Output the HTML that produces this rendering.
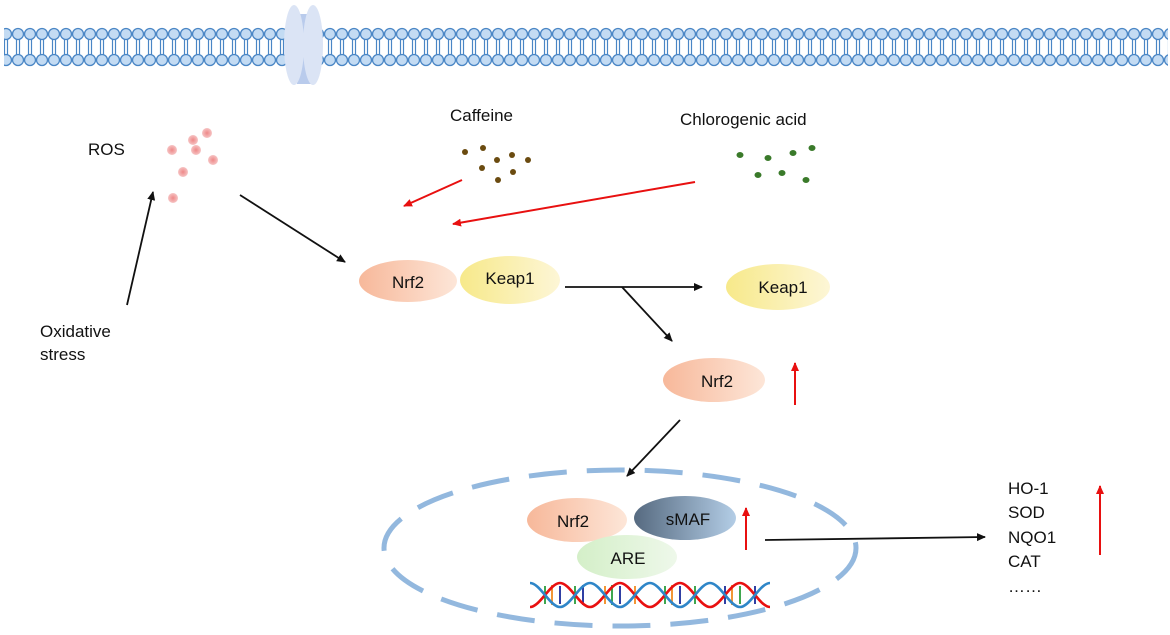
<!DOCTYPE html>
<html><head><meta charset="utf-8"><style>
html,body{margin:0;padding:0;background:#fff}
svg{display:block}
text{font-family:"Liberation Sans",Arial,sans-serif;fill:#111}
</style></head><body>
<svg width="1170" height="635" viewBox="0 0 1170 635" xmlns="http://www.w3.org/2000/svg">
<defs>
<pattern id="lip" x="0" y="0" width="12" height="100" patternUnits="userSpaceOnUse">
<line x1="4.5" y1="38" x2="4.5" y2="56" stroke="#4a86c5" stroke-width="1.2"/>
<line x1="7.5" y1="38" x2="7.5" y2="56" stroke="#4a86c5" stroke-width="1.2"/>
<circle cx="6" cy="34" r="5.5" fill="#c3dbf3" stroke="#4a86c5" stroke-width="1.3"/>
<circle cx="6" cy="60" r="5.5" fill="#c3dbf3" stroke="#4a86c5" stroke-width="1.3"/>
</pattern>
<linearGradient id="peach" x1="0" x2="1"><stop offset="0" stop-color="#f7b89a"/><stop offset="1" stop-color="#fde6d8"/></linearGradient>
<linearGradient id="yel" x1="0" x2="1"><stop offset="0" stop-color="#f7e98a"/><stop offset="1" stop-color="#fdf6d6"/></linearGradient>
<linearGradient id="smaf" x1="0" x2="1"><stop offset="0" stop-color="#566a80"/><stop offset="1" stop-color="#b3cde6"/></linearGradient>
<linearGradient id="are" x1="0" x2="1"><stop offset="0" stop-color="#d4efc8"/><stop offset="1" stop-color="#eef8ea"/></linearGradient>
<radialGradient id="ros"><stop offset="0" stop-color="#e88"/><stop offset="1" stop-color="#f6c4c4"/></radialGradient>
<marker id="ab" markerWidth="10" markerHeight="10" refX="8" refY="5" orient="auto" markerUnits="userSpaceOnUse"><path d="M0,1 L9,5 L0,9 Z" fill="#111"/></marker>
<marker id="ar" markerWidth="10" markerHeight="10" refX="8" refY="5" orient="auto" markerUnits="userSpaceOnUse"><path d="M0,1 L9,5 L0,9 Z" fill="#e81010"/></marker>
</defs>
<rect x="4" y="20" width="1164" height="50" fill="url(#lip)"/>
<rect x="297" y="14" width="16" height="70" fill="#b9cbec"/>
<ellipse cx="294" cy="45" rx="10" ry="40" fill="#dbe4f5"/>
<ellipse cx="313" cy="45" rx="10" ry="40" fill="#dbe4f5"/>

<text x="88" y="155" font-size="17">ROS</text>
<g fill="url(#ros)">
<circle cx="193" cy="140" r="5"/><circle cx="207" cy="133" r="5"/><circle cx="172" cy="150" r="5"/><circle cx="196" cy="150" r="5"/><circle cx="213" cy="160" r="5"/><circle cx="183" cy="172" r="5"/><circle cx="173" cy="198" r="5"/>
</g>
<line x1="127" y1="305" x2="153" y2="192" stroke="#111" stroke-width="1.8" marker-end="url(#ab)"/>
<text x="40" y="337" font-size="17">Oxidative</text>
<text x="40" y="360" font-size="17">stress</text>
<line x1="240" y1="195" x2="345" y2="262" stroke="#111" stroke-width="1.8" marker-end="url(#ab)"/>

<text x="450" y="121" font-size="17">Caffeine</text>
<g fill="#6b4b10">
<circle cx="465" cy="152" r="3"/><circle cx="483" cy="148" r="3"/><circle cx="497" cy="160" r="3"/><circle cx="512" cy="155" r="3"/><circle cx="528" cy="160" r="3"/><circle cx="482" cy="168" r="3"/><circle cx="498" cy="180" r="3"/><circle cx="513" cy="172" r="3"/>
</g>
<text x="680" y="125" font-size="17">Chlorogenic acid</text>
<g fill="#3a7a2a">
<ellipse cx="740" cy="155" rx="3.5" ry="3"/><ellipse cx="768" cy="158" rx="3.5" ry="3"/><ellipse cx="793" cy="153" rx="3.5" ry="3"/><ellipse cx="812" cy="148" rx="3.5" ry="3"/><ellipse cx="758" cy="175" rx="3.5" ry="3"/><ellipse cx="782" cy="173" rx="3.5" ry="3"/><ellipse cx="806" cy="180" rx="3.5" ry="3"/>
</g>
<line x1="462" y1="180" x2="404" y2="206" stroke="#e81010" stroke-width="2" marker-end="url(#ar)"/>
<line x1="695" y1="182" x2="453" y2="224" stroke="#e81010" stroke-width="2" marker-end="url(#ar)"/>

<ellipse cx="408" cy="281" rx="49" ry="21" fill="url(#peach)"/>
<text x="408" y="288" font-size="17" text-anchor="middle">Nrf2</text>
<ellipse cx="510" cy="280" rx="50" ry="24" fill="url(#yel)"/>
<text x="510" y="284" font-size="17" text-anchor="middle">Keap1</text>
<line x1="565" y1="287" x2="702" y2="287" stroke="#111" stroke-width="1.8" marker-end="url(#ab)"/>
<line x1="622" y1="287" x2="672" y2="341" stroke="#111" stroke-width="1.8" marker-end="url(#ab)"/>
<ellipse cx="778" cy="287" rx="52" ry="23" fill="url(#yel)"/>
<text x="783" y="293" font-size="17" text-anchor="middle">Keap1</text>
<ellipse cx="714" cy="380" rx="51" ry="22" fill="url(#peach)"/>
<text x="717" y="387" font-size="17" text-anchor="middle">Nrf2</text>
<line x1="795" y1="405" x2="795" y2="363" stroke="#e81010" stroke-width="2" marker-end="url(#ar)"/>
<line x1="680" y1="420" x2="627" y2="476" stroke="#111" stroke-width="1.8" marker-end="url(#ab)"/>

<ellipse cx="620" cy="548" rx="236" ry="78" fill="none" stroke="#93b8de" stroke-width="5" stroke-dasharray="38 20"/>
<ellipse cx="577" cy="520" rx="50" ry="22" fill="url(#peach)"/>
<text x="573" y="527" font-size="17" text-anchor="middle">Nrf2</text>
<ellipse cx="685" cy="518" rx="51" ry="22" fill="url(#smaf)"/>
<text x="688" y="525" font-size="17" text-anchor="middle">sMAF</text>
<ellipse cx="627" cy="557" rx="50" ry="22" fill="url(#are)"/>
<text x="628" y="564" font-size="17" text-anchor="middle">ARE</text>
<line x1="746" y1="550" x2="746" y2="508" stroke="#e81010" stroke-width="2" marker-end="url(#ar)"/>
<g stroke-width="1.8">
<line x1="545" y1="586" x2="545" y2="604" stroke="#2a9d3a"/><line x1="552" y1="585" x2="552" y2="605" stroke="#f08a20"/><line x1="560" y1="586" x2="560" y2="604" stroke="#1a2a9a"/>
<line x1="575" y1="586" x2="575" y2="604" stroke="#2a9d3a"/><line x1="583" y1="585" x2="583" y2="605" stroke="#1a2a9a"/><line x1="605" y1="586" x2="605" y2="604" stroke="#f08a20"/>
<line x1="612" y1="585" x2="612" y2="605" stroke="#2a9d3a"/><line x1="620" y1="586" x2="620" y2="604" stroke="#1a2a9a"/><line x1="635" y1="586" x2="635" y2="604" stroke="#f08a20"/>
<line x1="665" y1="586" x2="665" y2="604" stroke="#2a9d3a"/><line x1="672" y1="585" x2="672" y2="605" stroke="#f08a20"/><line x1="680" y1="586" x2="680" y2="604" stroke="#1a2a9a"/>
<line x1="695" y1="586" x2="695" y2="604" stroke="#2a9d3a"/><line x1="725" y1="586" x2="725" y2="604" stroke="#1a2a9a"/><line x1="732" y1="585" x2="732" y2="605" stroke="#f08a20"/>
<line x1="740" y1="586" x2="740" y2="604" stroke="#2a9d3a"/><line x1="755" y1="586" x2="755" y2="604" stroke="#1a2a9a"/>
</g>
<g stroke-width="2.6" fill="none">
<path d="M530,607 C540,607 550,583 560,583 C570,583 580,607 590,607 C600,607 610,583 620,583 C630,583 640,607 650,607 C660,607 670,583 680,583 C690,583 700,607 710,607 C720,607 730,583 740,583 C750,583 760,607 770,607" stroke="#e81010"/>
<path d="M530,583 C540,583 550,607 560,607 C570,607 580,583 590,583 C600,583 610,607 620,607 C630,607 640,583 650,583 C660,583 670,607 680,607 C690,607 700,583 710,583 C720,583 730,607 740,607 C750,607 760,583 770,583" stroke="#2f86c8"/>
</g>
<line x1="765" y1="540" x2="985" y2="537" stroke="#111" stroke-width="1.8" marker-end="url(#ab)"/>
<text x="1008" y="494" font-size="17">HO-1</text>
<text x="1008" y="518" font-size="17">SOD</text>
<text x="1008" y="543" font-size="17">NQO1</text>
<text x="1008" y="567" font-size="17">CAT</text>
<text x="1008" y="592" font-size="17">……</text>
<line x1="1100" y1="555" x2="1100" y2="486" stroke="#e81010" stroke-width="2" marker-end="url(#ar)"/>
</svg>
</body></html>
